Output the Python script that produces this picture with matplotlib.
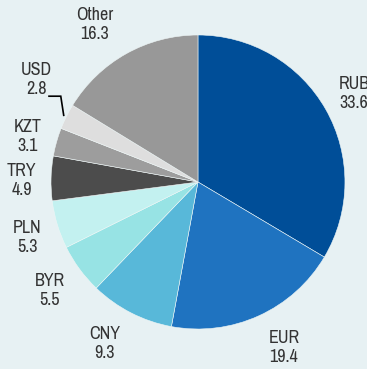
import numpy as np
import matplotlib
matplotlib.use('Agg')
import matplotlib.pyplot as plt

# currency shares, clockwise from the top
monedas = ['RUB', 'EUR', 'CNY', 'BYR', 'PLN', 'TRY', 'KZT', 'USD', 'Other']
valores = [33.6, 19.4, 9.3, 5.5, 5.3, 4.9, 3.1, 2.8, 16.3]
colores = ['#004e98', '#1f73c0', '#58b8d9', '#97e3e4', '#c3f1f0',
           '#4c4c4c', '#9d9d9d', '#dedede', '#989898']

fondo = '#e7f1f3'
plt.rcParams['font.family'] = ['Archivo Narrow', 'DejaVu Sans']

fig = plt.figure(figsize=(3.67, 3.69), dpi=100, facecolor=fondo)
ax = fig.add_axes([0, 0, 1, 1])
ax.set_facecolor(fondo)

wedges, _ = ax.pie(valores, colors=colores, startangle=90, counterclock=False,
                   wedgeprops=dict(edgecolor='#eef6f6', linewidth=0.4))

# (radio, giro en grados) de cada etiqueta respecto al centro de su cuña
pos = {'RUB': (1.22, 0), 'EUR': (1.27, 3), 'CNY': (1.27, -3),
       'BYR': (1.25, 0), 'PLN': (1.22, 1), 'TRY': (1.2, 1),
       'KZT': (1.2, 1), 'USD': (1.3, -6), 'Other': (1.28, 4)}

for w, nombre, v in zip(wedges, monedas, valores):
    r, giro = pos[nombre]
    ang = np.deg2rad((w.theta1 + w.theta2) / 2 + giro)
    x, y = r * np.cos(ang), r * np.sin(ang)
    ha = 'center'
    if nombre == 'RUB':
        ha = 'left'
        x = x - 0.1
    ax.text(x, y, f'{nombre}\n{v}', ha=ha, va='center', fontsize=13,
            color='#333333', linespacing=1.22)
    if nombre == 'USD':
        # linea guia hacia la cuña pequeña
        a0 = np.deg2rad((w.theta1 + w.theta2) / 2)
        x0, y0 = 1.02 * np.cos(a0), 1.02 * np.sin(a0)
        x1, y1 = x0 - 0.02, y0 + 0.13
        ax.plot([x0, x1, x1 - 0.08], [y0, y1, y1], color='black', lw=1.2,
                solid_joinstyle='miter')

ax.set_aspect('auto')
ax.set_xlim(-1.347, 1.150)
ax.set_ylim(-1.272, 1.238)
ax.axis('off')

plt.savefig('out.png', dpi=100, facecolor=fondo)
